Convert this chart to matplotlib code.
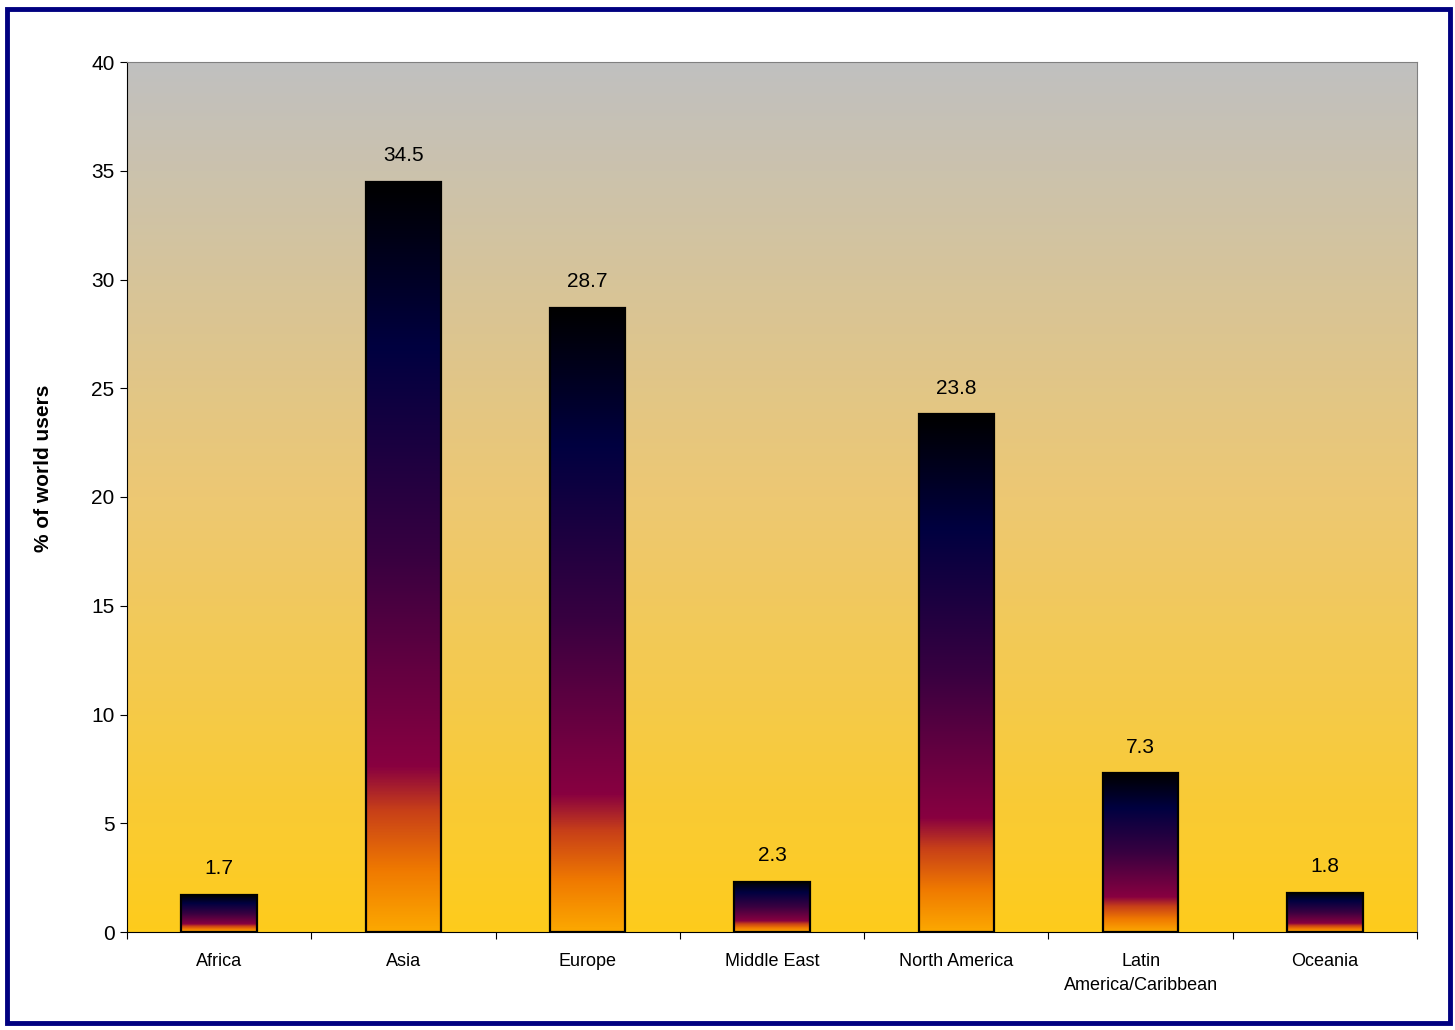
import numpy as np
import matplotlib
matplotlib.use("Agg")
import matplotlib.pyplot as plt
from matplotlib.colors import LinearSegmentedColormap
from matplotlib.patches import Rectangle

plt.rcParams['font.family'] = ['Liberation Sans', 'DejaVu Sans']

# data
regions = ["Africa", "Asia", "Europe", "Middle East", "North America",
           "Latin\nAmerica/Caribbean", "Oceania"]
share = [1.7, 34.5, 28.7, 2.3, 23.8, 7.3, 1.8]

# colour maps
bg_cmap = LinearSegmentedColormap.from_list(
    "bg", [(0.0, "#FECC1C"), (0.5, "#EDC873"), (1.0, "#C0C0C0")])
bar_cmap = LinearSegmentedColormap.from_list(
    "bar", [(0.0, "#FCA800"), (0.08, "#F07A00"), (0.16, "#C84018"),
            (0.22, "#880040"), (0.5, "#380040"), (0.78, "#000040"),
            (1.0, "#000000")])

fig = plt.figure(figsize=(14.55, 10.30), dpi=100)
ax = fig.add_axes([127 / 1455, 1 - 932 / 1030, 1290 / 1455, 870 / 1030])

x = np.arange(len(regions))
width = 0.41

# plot area background gradient
grad = np.linspace(0, 1, 256).reshape(-1, 1)
ax.imshow(grad, cmap=bg_cmap, origin="lower", aspect="auto",
          extent=[-0.5, len(regions) - 0.5, 0, 40], zorder=0)

bars = ax.bar(x, share, width, facecolor="none", edgecolor="black",
              linewidth=1.6, zorder=3)
for b, v in zip(bars, share):
    im = ax.imshow(grad, cmap=bar_cmap, origin="lower", aspect="auto",
                   extent=[b.get_x(), b.get_x() + b.get_width(), 0, v],
                   zorder=2)
    im.set_clip_path(b)
    ax.annotate(f"{v}", (b.get_x() + b.get_width() / 2, v),
                xytext=(0, 12), textcoords="offset points",
                ha="center", va="bottom", fontsize=15)

ax.set_xlim(-0.5, len(regions) - 0.5)
ax.set_ylim(0, 40)

# axes styling
ax.set_yticks(range(0, 41, 5))
ax.set_xticks(np.arange(-0.5, len(regions), 1.0))
ax.set_xticklabels([])
ax.set_xticks(x, minor=True)
ax.set_xticklabels(regions, minor=True, fontsize=13, linespacing=1.55)
ax.tick_params(axis="x", which="minor", length=0, pad=15)
ax.tick_params(axis="x", which="major", direction="out", length=5)
ax.tick_params(axis="y", direction="out", length=5, labelsize=15, pad=4)
for s in ["top", "right"]:
    ax.spines[s].set_color("#808080")
ax.spines["left"].set_color("black")
ax.spines["bottom"].set_color("black")

ax.set_ylabel("% of world users", fontsize=15, fontweight="bold")
ax.yaxis.set_label_coords(-0.0574, 0.533)

# outer frame
fig.patches.append(Rectangle((7 / 1455, 7 / 1030), 1443 / 1455, 1014 / 1030,
                             transform=fig.transFigure, fill=False,
                             edgecolor="#000080", linewidth=3.5))

fig.savefig("out.png", dpi=100)
